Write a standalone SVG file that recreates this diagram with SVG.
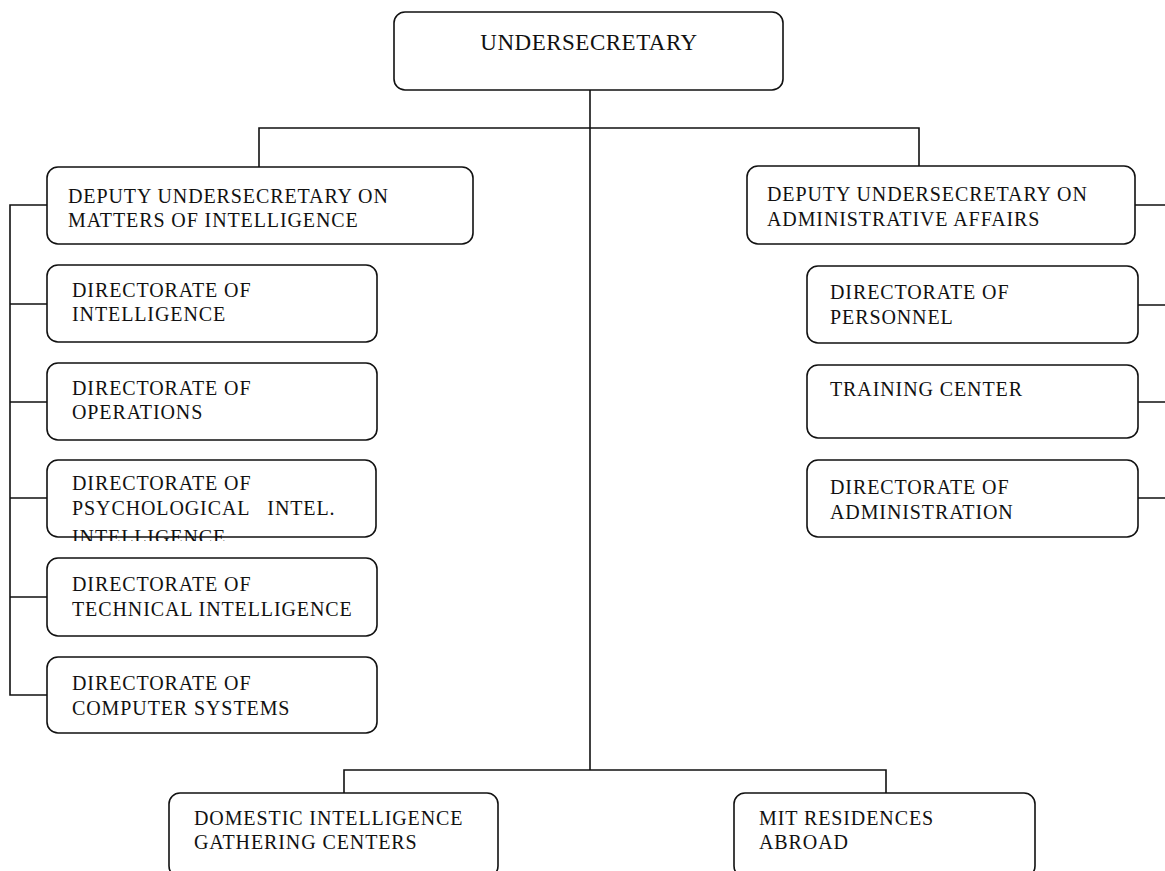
<svg xmlns="http://www.w3.org/2000/svg" width="1165" height="871" viewBox="0 0 1165 871">
<style>
.box{fill:#fff;stroke:#111;stroke-width:1.6}
.ln{fill:none;stroke:#111;stroke-width:1.6}
text{font-family:"Liberation Serif","Times New Roman",serif;fill:#111;font-size:20px;letter-spacing:0.9px}
.big{font-size:23px;letter-spacing:0.5px}
</style>
<defs>
<clipPath id="clipPsy"><rect x="0" y="440" width="400" height="101"/></clipPath>
</defs>
<g id="connectors">
<path class="ln" d="M590,90 V770"/>
<path class="ln" d="M259,167 V128 H919 V166"/>
<path class="ln" d="M344,793 V770 H886 V793"/>
<path class="ln" d="M47,205 H10 V695 H47"/>
<path class="ln" d="M10,304 H47 M10,402 H47 M10,498 H47 M10,597 H47"/>
<path class="ln" d="M1135,205 H1165 M1138,305 H1165 M1138,402 H1165 M1138,498 H1165"/>
</g>
<g id="undersecretary">
<rect class="box" x="394" y="12" width="389" height="78" rx="11"/>
<text class="big" x="589" y="50" text-anchor="middle">UNDERSECRETARY</text>
</g>
<g id="deputy-intel">
<rect class="box" x="47" y="167" width="426" height="77" rx="11"/>
<text x="68" y="203">DEPUTY UNDERSECRETARY ON</text>
<text x="68" y="227">MATTERS OF INTELLIGENCE</text>
</g>
<g id="deputy-admin">
<rect class="box" x="747" y="166" width="388" height="78" rx="11"/>
<text x="767" y="201">DEPUTY UNDERSECRETARY ON</text>
<text x="767" y="226">ADMINISTRATIVE AFFAIRS</text>
</g>
<g id="dir-intelligence">
<rect class="box" x="47" y="265" width="330" height="77" rx="11"/>
<text x="72" y="297">DIRECTORATE OF</text>
<text x="72" y="321">INTELLIGENCE</text>
</g>
<g id="dir-operations">
<rect class="box" x="47" y="363" width="330" height="77" rx="11"/>
<text x="72" y="395">DIRECTORATE OF</text>
<text x="72" y="419">OPERATIONS</text>
</g>
<g id="dir-psychological">
<rect class="box" x="47" y="460" width="329" height="77" rx="11"/>
<text x="72" y="490">DIRECTORATE OF</text>
<text x="72" y="515" xml:space="preserve">PSYCHOLOGICAL   INTEL.</text>
<text x="72" y="544" clip-path="url(#clipPsy)">INTELLIGENCE</text>
</g>
<g id="dir-technical">
<rect class="box" x="47" y="558" width="330" height="78" rx="11"/>
<text x="72" y="591">DIRECTORATE OF</text>
<text x="72" y="616">TECHNICAL INTELLIGENCE</text>
</g>
<g id="dir-computer">
<rect class="box" x="47" y="657" width="330" height="76" rx="11"/>
<text x="72" y="690">DIRECTORATE OF</text>
<text x="72" y="715">COMPUTER SYSTEMS</text>
</g>
<g id="dir-personnel">
<rect class="box" x="807" y="266" width="331" height="77" rx="11"/>
<text x="830" y="299">DIRECTORATE OF</text>
<text x="830" y="324">PERSONNEL</text>
</g>
<g id="training-center">
<rect class="box" x="807" y="365" width="331" height="73" rx="11"/>
<text x="830" y="396">TRAINING CENTER</text>
</g>
<g id="dir-administration">
<rect class="box" x="807" y="460" width="331" height="77" rx="11"/>
<text x="830" y="494">DIRECTORATE OF</text>
<text x="830" y="519">ADMINISTRATION</text>
</g>
<g id="domestic-centers">
<rect class="box" x="169" y="793" width="329" height="84" rx="11"/>
<text x="194" y="825">DOMESTIC INTELLIGENCE</text>
<text x="194" y="849">GATHERING CENTERS</text>
</g>
<g id="mit-residences">
<rect class="box" x="734" y="793" width="301" height="84" rx="11"/>
<text x="759" y="825">MIT RESIDENCES</text>
<text x="759" y="849">ABROAD</text>
</g>
</svg>
